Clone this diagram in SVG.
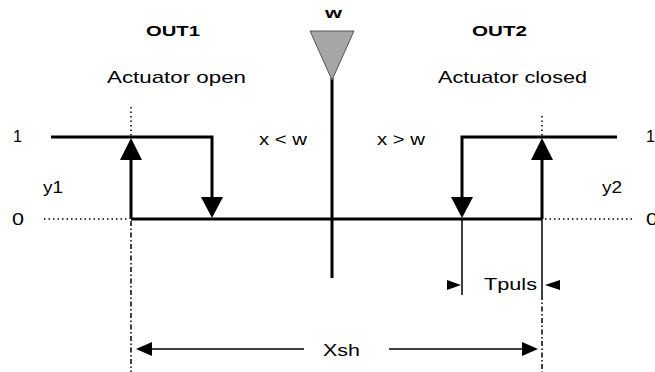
<svg xmlns="http://www.w3.org/2000/svg" width="655" height="372" viewBox="0 0 655 372">
<style>
text{font-family:"Liberation Sans",Arial,sans-serif;font-size:17px;fill:#000}
.b{font-weight:bold;font-size:15px}
.thick{stroke:#000;stroke-width:3;fill:none}
.thin{stroke:#000;stroke-width:1.5;fill:none}
.dot{stroke:#000;stroke-width:1.5;stroke-dasharray:1.5 3;fill:none}
.dd{stroke:#000;stroke-width:1.5;stroke-dasharray:5 2.5 1.5 2.5;fill:none}
.head{fill:#000;stroke:none}
</style>
<rect width="655" height="372" fill="#fff"/>
<g id="connectors">
  <!-- dotted zero extensions -->
  <line class="dot" x1="44" y1="219" x2="129" y2="219"/>
  <line class="dot" x1="545" y1="219" x2="634" y2="219"/>
  <!-- dotted above up arrows -->
  <line class="dot" x1="131" y1="107" x2="131" y2="136"/>
  <line class="dot" x1="542" y1="116" x2="542" y2="136"/>
  <!-- dash-dot verticals -->
  <line class="dd" x1="131" y1="221" x2="131" y2="372"/>
  <line class="thin" x1="542" y1="219" x2="542" y2="295"/>
  <line class="dd" x1="542" y1="295" x2="542" y2="372"/>
  <!-- Tpuls -->
  <line class="thin" x1="462" y1="219" x2="462" y2="295"/>
  <polygon class="head" points="447,280 461,285 447,290"/>
  <polygon class="head" points="560,280 545,285 560,290"/>
  <!-- Xsh -->
  <line class="thin" x1="150" y1="349" x2="304" y2="349"/>
  <polygon class="head" points="152,342 136,349 152,356"/>
  <line class="thin" x1="389" y1="349" x2="525" y2="349"/>
  <polygon class="head" points="522,342 538,349 522,356"/>
  <!-- zero line -->
  <line class="thick" x1="131" y1="219" x2="542" y2="219"/>
  <!-- left output -->
  <polyline class="thick" points="51,137 212,137 212,198"/>
  <polygon class="head" points="201,197 223,197 212,218"/>
  <line class="thick" x1="131" y1="219" x2="131" y2="158"/>
  <polygon class="head" points="120,160 142,160 131,138"/>
  <!-- right output -->
  <polyline class="thick" points="617,137 462,137 462,198"/>
  <polygon class="head" points="451,197 473,197 462,218"/>
  <line class="thick" x1="542" y1="219" x2="542" y2="158"/>
  <polygon class="head" points="531,160 553,160 542,138"/>
  <!-- setpoint line -->
  <line class="thick" x1="332" y1="78" x2="332" y2="278"/>
</g>
<g id="setpoint">
  <polygon points="310,31 354,31 332,80" fill="#a6a6a6" stroke="#555" stroke-width="1"/>
  <text class="b" x="325" y="18" textLength="17" lengthAdjust="spacingAndGlyphs">w</text>
</g>
<g id="out1">
  <text class="b" x="146" y="36" textLength="54" lengthAdjust="spacingAndGlyphs">OUT1</text>
  <text x="107" y="83" textLength="139" lengthAdjust="spacingAndGlyphs">Actuator open</text>
  <text x="259" y="145" textLength="48" lengthAdjust="spacingAndGlyphs">x &lt; w</text>
  <text x="13" y="142" textLength="9" lengthAdjust="spacingAndGlyphs">1</text>
  <text x="43" y="193" textLength="20" lengthAdjust="spacingAndGlyphs">y1</text>
  <text x="12" y="225" textLength="12" lengthAdjust="spacingAndGlyphs">0</text>
</g>
<g id="out2">
  <text class="b" x="472" y="36" textLength="55" lengthAdjust="spacingAndGlyphs">OUT2</text>
  <text x="438" y="83" textLength="149" lengthAdjust="spacingAndGlyphs">Actuator closed</text>
  <text x="377" y="145" textLength="48" lengthAdjust="spacingAndGlyphs">x &gt; w</text>
  <text x="646" y="142" textLength="9" lengthAdjust="spacingAndGlyphs">1</text>
  <text x="602" y="193" textLength="20" lengthAdjust="spacingAndGlyphs">y2</text>
  <text x="646" y="225" textLength="12" lengthAdjust="spacingAndGlyphs">0</text>
</g>
<g id="tpuls">
  <text x="484" y="290" textLength="53" lengthAdjust="spacingAndGlyphs">Tpuls</text>
</g>
<g id="xsh">
  <text x="323" y="356" textLength="37" lengthAdjust="spacingAndGlyphs">Xsh</text>
</g>
</svg>
